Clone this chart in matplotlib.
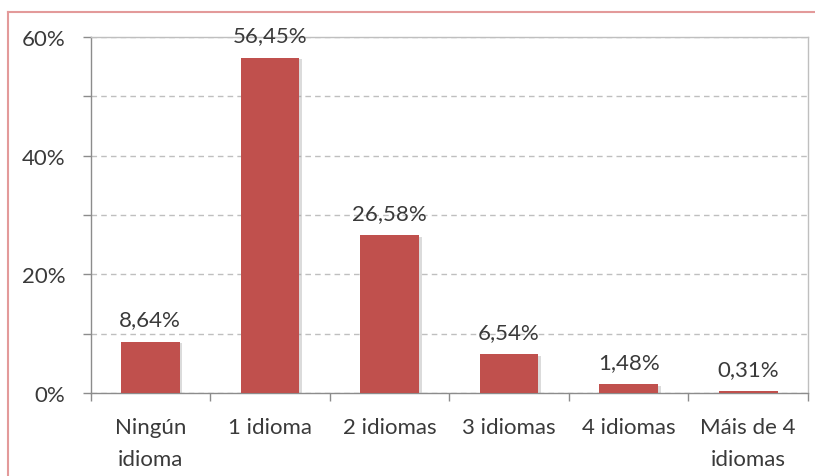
import matplotlib.pyplot as plt
import matplotlib.patheffects as pe
from matplotlib.lines import Line2D

categories = ['Ningún\nidioma', '1 idioma', '2 idiomas', '3 idiomas', '4 idiomas', 'Máis de 4\nidiomas']
values = [8.64, 56.45, 26.58, 6.54, 1.48, 0.31]
value_labels = ['8,64%', '56,45%', '26,58%', '6,54%', '1,48%', '0,31%']
y_ticks = [0, 20, 40, 60]
y_tick_labels = ['0%', '20%', '40%', '60%']

plt.rcParams['font.family'] = ['Lato', 'DejaVu Sans']
text_color = '#3a3a3a'
axis_color = '#8c8c8c'

fig = plt.figure(figsize=(8.15, 4.77), dpi=100)
ax = fig.add_axes([90.5 / 815, 83 / 477, 717.5 / 815, 356 / 477])

x = list(range(len(categories)))
bars = ax.bar(x, values, width=0.49, color='#C0504D', zorder=3)
for b in bars:
    b.set_path_effects([pe.SimplePatchShadow(offset=(2, -1), shadow_rgbFace='#999999', alpha=0.35), pe.Normal()])

for xi, v, lab in zip(x, values, value_labels):
    ax.annotate(lab, (xi, v), xytext=(0, 9), textcoords='offset points',
                ha='center', va='bottom', fontsize=16, color=text_color, zorder=4)

ax.set_xlim(-0.5, len(categories) - 0.5)
ax.set_ylim(0, 60)

ax.set_yticks(y_ticks)
ax.set_yticklabels(y_tick_labels)
ax.set_yticks([10, 30, 50], minor=True)
ax.yaxis.grid(True, which='both', linestyle=(0, (4, 3)), color='#bfbfbf', linewidth=1, zorder=0)
ax.tick_params(axis='y', which='both', length=6, width=1, color=axis_color,
               labelsize=16, labelcolor=text_color, pad=12)

ax.set_xticks(x)
ax.set_xticklabels(categories, linespacing=1.8)
ax.set_xticks([i + 0.5 for i in range(-1, len(categories))], minor=True)
ax.tick_params(axis='x', which='major', length=0, labelsize=16, labelcolor=text_color, pad=17)
ax.tick_params(axis='x', which='minor', length=6, width=1, color=axis_color)

for s in ax.spines.values():
    s.set_color(axis_color)
    s.set_linewidth(1)
ax.spines['top'].set_color('#bfbfbf')
ax.spines['right'].set_color('#bfbfbf')

# outer chart border (top and left edges visible)
fig.add_artist(Line2D([8 / 815, 1.0], [1 - 13 / 477, 1 - 13 / 477], color='#e39a9a', linewidth=1.5))
fig.add_artist(Line2D([8 / 815, 8 / 815], [0, 1 - 13 / 477], color='#e39a9a', linewidth=1.5))

fig.savefig('out.png', dpi=100)
